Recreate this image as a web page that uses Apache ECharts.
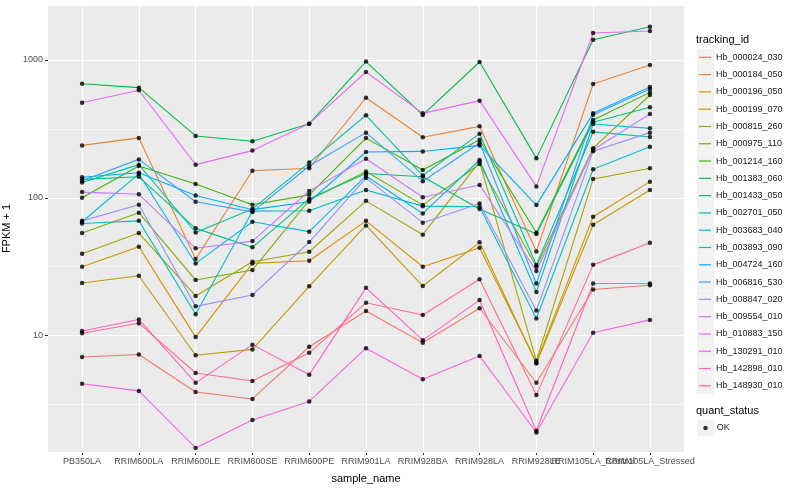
<!DOCTYPE html>
<html><head><meta charset="utf-8">
<script src="https://cdn.jsdelivr.net/npm/echarts@6/dist/echarts.min.js"></script>
<style>html,body{margin:0;padding:0;background:#fff}#c{width:800px;height:500px}</style>
</head><body><div id="c"></div>
<script>
const categories = ['PB350LA','RRIM600LA','RRIM600LE','RRIM600SE','RRIM600PE','RRIM901LA','RRIM928BA','RRIM928LA','RRIM928LE','RRIM105LA_Control','RRIM105LA_Stressed'];
const trackingIds = ['Hb_000024_030','Hb_000184_050','Hb_000196_050','Hb_000199_070','Hb_000815_260','Hb_000975_110','Hb_001214_160','Hb_001383_060','Hb_001433_050','Hb_002701_050','Hb_003683_040','Hb_003893_090','Hb_004724_160','Hb_006816_530','Hb_008847_020','Hb_009554_010','Hb_010883_150','Hb_130291_010','Hb_142898_010','Hb_148930_010'];
const palette = ['#F8766D','#EA8331','#D89000','#C09B00','#A3A500','#7CAE00','#39B600','#00BB4E','#00BF7D','#00C1A3','#00BFC4','#00BAE0','#00B0F6','#35A2FF','#9590FF','#C77CFF','#E76BF3','#FA62DB','#FF62BC','#FF6C91'];
const yTickValues = [10, 100, 1000];
const yMin = 1.43, yMax = 2506;

const hb_000024_030 = [7.0, 7.3, 3.9, 3.47, 8.3, 15.1, 8.86, 15.8, 4.55, 21.6, 23.2];
const hb_000184_050 = [240, 272, 36, 157, 164, 532, 275, 330, 40.8, 670, 921];
const hb_000196_050 = [31.6, 44.2, 9.75, 33.4, 34.9, 68, 31.6, 43.4, 6.39, 72.8, 131];
const hb_000199_070 = [24.1, 27.2, 7.2, 7.94, 22.8, 63, 22.9, 47.5, 6.28, 63.7, 114];
const hb_000815_260 = [39.3, 55.5, 19.4, 34.3, 40.6, 95, 54, 183, 6.56, 137, 164];
const hb_000975_110 = [55.5, 78, 25.3, 29.9, 96.3, 155, 88.5, 176, 31.6, 229, 557];
const hb_001214_160 = [100, 170, 126, 89, 105, 271, 159, 264, 55.8, 367, 582];
const hb_001383_060 = [673, 630, 281, 257, 345, 973, 399, 967, 194, 1403, 1745];
const hb_001433_050 = [136, 142, 60, 43.7, 98.6, 150, 142, 83, 54.5, 353, 454];
const hb_002701_050 = [129, 174, 56, 83, 180, 397, 145, 292, 32.5, 301, 276];
const hb_003683_040 = [65, 68, 14.3, 80, 80.5, 114, 87, 86, 13.3, 161, 235];
const hb_003893_090 = [67, 149, 33.4, 67, 56.8, 144, 77, 188, 20.7, 343, 319];
const hb_004724_160 = [141, 152, 104, 82, 93.6, 215, 217, 240, 88.5, 410, 637];
const hb_006816_530 = [133, 190, 93.6, 79, 170, 297, 132, 250, 23.9, 400, 616];
const hb_008847_020 = [68, 89, 16.3, 19.7, 47.7, 139, 66, 91, 15.2, 218, 297];
const hb_009554_010 = [110, 106, 43, 48.5, 112, 192, 101, 124, 29.4, 223, 405];
const hb_010883_150 = [490, 603, 174, 220, 345, 818, 410, 507, 121, 1571, 1625];
const hb_130291_010 = [4.47, 3.97, 1.53, 2.44, 3.33, 8.1, 4.83, 7.1, 1.98, 10.5, 13.0];
const hb_142898_010 = [10.8, 13.1, 4.54, 8.6, 5.19, 22.2, 9.27, 18.1, 2.04, 23.9, 23.9];
const hb_148930_010 = [10.4, 12.3, 5.35, 4.68, 7.5, 17.3, 14.1, 25.6, 3.7, 32.6, 47.2];

const seriesValues = [hb_000024_030, hb_000184_050, hb_000196_050, hb_000199_070, hb_000815_260, hb_000975_110, hb_001214_160, hb_001383_060, hb_001433_050, hb_002701_050, hb_003683_040, hb_003893_090, hb_004724_160, hb_006816_530, hb_008847_020, hb_009554_010, hb_010883_150, hb_130291_010, hb_142898_010, hb_148930_010];

const FONT = '"Liberation Sans", Arial, Helvetica, sans-serif';
const catIdx = categories.map((_, i) => i);
const labelIdxA = catIdx.filter(i => i !== 9);
const labelIdxB = [9];
const halfDecade = Math.sqrt(10);

const lineSeries = trackingIds.map((id, k) => ({
  name: id, type: 'line', z: 3, silent: true,
  data: seriesValues[k].map((v, i) => [i, v]),
  symbol: 'none', showSymbol: false,
  lineStyle: { width: 1.1, color: palette[k] },
  itemStyle: { color: palette[k] }
}));

const points = [];
seriesValues.forEach(arr => arr.forEach((v, i) => points.push([i, v])));

const ROW = 17.29, LEG_TOP = 57.3 - ROW / 2;
const graphics = trackingIds.map((_, i) => ({
  type: 'rect', silent: true, z: -1,
  shape: { x: 697, y: LEG_TOP + i * ROW, width: 17, height: 17 },
  style: { fill: '#F2F2F2' }
}));
graphics.push({ type: 'rect', silent: true, z: -1, shape: { x: 697, y: 428 - 8.5, width: 17, height: 17 }, style: { fill: '#F2F2F2' } });

const xLabelStyle = { color: '#4D4D4D', fontSize: 9, fontFamily: FONT, margin: 5, hideOverlap: false, showMinLabel: true, showMaxLabel: true };

const chart = echarts.init(document.getElementById('c'), null, { renderer: 'canvas' });
chart.setOption({
  animation: false,
  backgroundColor: '#FFFFFF',
  color: palette,
  textStyle: { fontFamily: FONT },
  tooltip: { show: false },
  title: [
    { text: 'tracking_id', left: 696, top: 34, padding: 0, textStyle: { fontSize: 11, fontWeight: 'normal', color: '#000', fontFamily: FONT } },
    { text: 'quant_status', left: 696, top: 405, padding: 0, textStyle: { fontSize: 11, fontWeight: 'normal', color: '#000', fontFamily: FONT } }
  ],
  legend: [
    {
      data: trackingIds, orient: 'vertical', left: 699, top: LEG_TOP, padding: 0, itemGap: 0,
      icon: 'rect', itemWidth: 12, itemHeight: 1.2, selectedMode: false,
      textStyle: { fontSize: 9, color: '#1A1A1A', lineHeight: ROW, fontFamily: FONT }
    },
    {
      data: ['OK'], orient: 'vertical', left: 703.25, top: 428 - ROW / 2, padding: 0, itemGap: 0,
      icon: 'circle', itemWidth: 4.5, itemHeight: 4.5, selectedMode: false,
      itemStyle: { color: '#000' },
      textStyle: { fontSize: 9, color: '#1A1A1A', lineHeight: ROW, fontFamily: FONT, padding: [0, 0, 0, 4] }
    }
  ],
  graphic: graphics,
  grid: { left: 48, top: 5, width: 636, height: 447, show: true, backgroundColor: '#EBEBEB', borderWidth: 0, containLabel: false, outerBoundsMode: 'none' },
  xAxis: [
    {
      type: 'value', min: -0.6, max: 10.6,
      axisLine: { show: false },
      axisPointer: { show: false },
      axisTick: { show: true, customValues: catIdx, length: 3, lineStyle: { color: '#333333', width: 1 } },
      axisLabel: Object.assign({ customValues: labelIdxA, formatter: v => categories[Math.round(v)] || '' }, xLabelStyle),
      splitLine: { show: true, lineStyle: { color: '#FFFFFF', width: 1.1 } },
      name: 'sample_name', nameLocation: 'middle', nameGap: 21,
      nameTextStyle: { color: '#000', fontSize: 11, fontFamily: FONT }
    },
    {
      // second label row sharing the same scale, so the overlapping label is kept as in the reference
      type: 'value', min: -0.6, max: 10.6, position: 'bottom', offset: 0,
      axisLine: { show: false },
      axisPointer: { show: false },
      axisTick: { show: false, customValues: labelIdxB },
      axisLabel: Object.assign({ customValues: labelIdxB, formatter: v => categories[Math.round(v)] || '' }, xLabelStyle),
      splitLine: { show: false }
    }
  ],
  yAxis: [
    {
      type: 'log', logBase: 10, min: yMin, max: yMax,
      axisLine: { show: false },
      axisPointer: { show: false },
      axisTick: { show: false },
      axisLabel: { customValues: yTickValues, formatter: v => String(Math.round(v)), color: '#4D4D4D', fontSize: 9, fontFamily: FONT, margin: 5 },
      splitLine: { show: true, lineStyle: { color: '#FFFFFF', width: 1.1 } },
      name: 'FPKM + 1', nameLocation: 'middle', nameGap: 30, nameRotate: 90,
      nameTextStyle: { color: '#000', fontSize: 11, fontFamily: FONT },
      z: 1
    },
    {
      // same scale shifted by half a decade: its grid lines fall on the minor breaks (3.16, 31.6, 316)
      type: 'log', logBase: 10, min: yMin / halfDecade, max: yMax / halfDecade, position: 'left',
      axisLine: { show: false },
      axisPointer: { show: false },
      axisTick: { show: false },
      axisLabel: { show: false, customValues: yTickValues.map(v => v / 10) },
      splitLine: { show: true, lineStyle: { color: '#FFFFFF', width: 0.55 } },
      z: 0
    },
    {
      // tick marks only, on the log10 of the same range
      type: 'value', min: Math.log10(yMin), max: Math.log10(yMax), position: 'left',
      axisLine: { show: false },
      axisPointer: { show: false },
      axisTick: { show: true, customValues: yTickValues.map(v => Math.log10(v)), length: 3, lineStyle: { color: '#333333', width: 1 } },
      axisLabel: { show: false, customValues: yTickValues.map(v => Math.log10(v)) },
      splitLine: { show: false },
      z: 1
    }
  ],
  series: [
    ...lineSeries,
    {
      name: 'OK', type: 'scatter', z: 5, silent: true,
      data: points, symbol: 'circle', symbolSize: 4.5,
      itemStyle: { color: '#000000' }
    }
  ]
});
</script></body></html>
